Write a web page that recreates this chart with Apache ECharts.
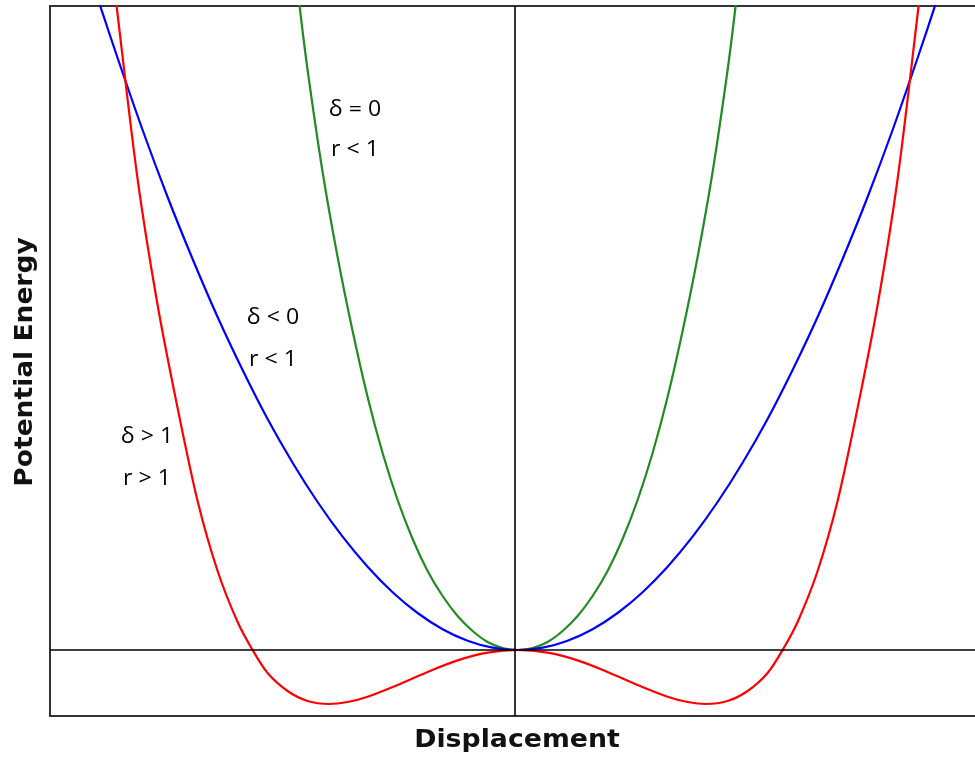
<!DOCTYPE html>
<html>
<head>
<meta charset="utf-8">
<script src="https://cdn.jsdelivr.net/npm/echarts@6/dist/echarts.min.js"></script>
<style>
  html, body { margin: 0; padding: 0; background: #fff; }
  #chart { width: 975px; height: 757px; }
</style>
</head>
<body>
<div id="chart"></div>
<script>
// Potential energy curves as [displacement, energy] pairs
const doubleWell = [
  [-4.074, 7.20], [-3.984, 6.44], [-3.774, 4.71], [-3.574, 3.45], [-3.374, 2.42],
  [-3.174, 1.49], [-2.974, 0.79], [-2.774, 0.28], [-2.624, 0.00], [-2.474, -0.23],
  [-2.274, -0.41], [-2.074, -0.51], [-1.859, -0.54], [-1.674, -0.52], [-1.474, -0.467],
  [-1.174, -0.349], [-0.874, -0.219], [-0.574, -0.104], [-0.274, -0.027], [0.026, 0.00],
  [0.326, -0.027], [0.626, -0.104], [0.926, -0.219], [1.226, -0.349], [1.526, -0.467],
  [1.726, -0.52], [1.911, -0.54], [2.126, -0.51], [2.326, -0.41], [2.526, -0.23],
  [2.676, 0.00], [2.826, 0.28], [3.026, 0.79], [3.226, 1.49], [3.426, 2.42],
  [3.626, 3.45], [3.826, 4.71], [4.036, 6.44], [4.126, 7.20]
];
const softWell = [
  [-4.274, 6.84], [-4.154, 6.46], [-3.974, 5.92], [-3.724, 5.20], [-3.474, 4.53],
  [-3.224, 3.91], [-2.974, 3.33], [-2.724, 2.80], [-2.474, 2.31], [-2.224, 1.873],
  [-1.974, 1.48], [-1.724, 1.133], [-1.474, 0.833], [-1.224, 0.578], [-0.974, 0.37],
  [-0.724, 0.208], [-0.474, 0.093], [-0.224, 0.023], [0.026, 0.00], [0.276, 0.023],
  [0.526, 0.093], [0.776, 0.208], [1.026, 0.37], [1.276, 0.578], [1.526, 0.833],
  [1.776, 1.133], [2.026, 1.48], [2.276, 1.873], [2.526, 2.31], [2.776, 2.80],
  [3.026, 3.33], [3.276, 3.91], [3.526, 4.53], [3.776, 5.20], [4.026, 5.92],
  [4.206, 6.46], [4.326, 6.84]
];
const stiffWell = [
  [-2.224, 7.08], [-2.154, 6.44], [-2.074, 5.80], [-1.924, 4.78], [-1.774, 3.93],
  [-1.624, 3.19], [-1.474, 2.53], [-1.324, 1.97], [-1.174, 1.50], [-1.024, 1.11],
  [-0.874, 0.79], [-0.724, 0.54], [-0.574, 0.34], [-0.424, 0.19], [-0.274, 0.08],
  [-0.124, 0.02], [0.026, 0.00], [0.176, 0.02], [0.326, 0.08], [0.476, 0.19],
  [0.626, 0.34], [0.776, 0.54], [0.926, 0.79], [1.076, 1.11], [1.226, 1.50],
  [1.376, 1.97], [1.526, 2.53], [1.676, 3.19], [1.826, 3.93], [1.976, 4.78],
  [2.126, 5.80], [2.206, 6.44], [2.276, 7.08]
];

const xRange = [-4.65, 4.60];
const yRange = [-0.66, 6.44];

// Case annotations beside each curve
const caseLabels = [
  { lines: ['δ = 0', 'r < 1'], x: 355, y: [110, 150] },
  { lines: ['δ < 0', 'r < 1'], x: 273, y: [318, 360] },
  { lines: ['δ > 1', 'r > 1'], x: 147, y: [437, 479] }
];
const xTitle = 'Displacement';
const yTitle = 'Potential Energy';

const chart = echarts.init(document.getElementById('chart'), null, { renderer: 'canvas' });

const frame = { show: true, lineStyle: { color: '#333', width: 2 } };
const titleFont = '"DejaVu Sans", sans-serif';

const graphics = [];
caseLabels.forEach(function (lab) {
  lab.lines.forEach(function (t, i) {
    graphics.push({
      type: 'text', x: lab.x, y: lab.y[i], scaleX: 1.1, silent: true,
      style: {
        text: t, fill: '#000', fontSize: 21, fontFamily: '"Open Sans", "Noto Sans", sans-serif',
        align: 'center', verticalAlign: 'middle'
      }
    });
  });
});
graphics.push({
  type: 'text', x: 517, y: 740, scaleX: 1.07, silent: true,
  style: {
    text: xTitle, fill: '#111', fontSize: 25, fontWeight: 'bold', fontFamily: titleFont,
    align: 'center', verticalAlign: 'middle'
  }
});
graphics.push({
  type: 'text', x: 25, y: 362, rotation: Math.PI / 2, scaleX: 1.06, silent: true,
  style: {
    text: yTitle, fill: '#111', fontSize: 25, fontWeight: 'bold', fontFamily: titleFont,
    align: 'center', verticalAlign: 'middle'
  }
});

function curve(data, color) {
  return {
    type: 'line', data: data, showSymbol: false, smooth: 0.3, clip: true,
    lineStyle: { color: color, width: 2.2 }, silent: true, z: 3
  };
}

const hiddenAxis = {
  axisTick: { show: false }, axisLabel: { show: false }, splitLine: { show: false }
};

chart.setOption({
  animation: false,
  grid: { left: 50, top: 6, right: 0, bottom: 41, containLabel: false },
  xAxis: [
    Object.assign({
      type: 'value', min: xRange[0], max: xRange[1], position: 'bottom',
      axisLine: Object.assign({ onZero: false }, frame)
    }, hiddenAxis),
    Object.assign({
      type: 'value', min: xRange[0], max: xRange[1], position: 'top',
      axisLine: Object.assign({ onZero: false }, frame)
    }, hiddenAxis)
  ],
  yAxis: Object.assign({
    type: 'value', min: yRange[0], max: yRange[1],
    axisLine: Object.assign({ onZero: false }, frame)
  }, hiddenAxis),
  graphic: graphics,
  series: [
    {
      type: 'line', data: [], silent: true,
      markLine: {
        silent: true, symbol: 'none', label: { show: false },
        lineStyle: { color: '#000', width: 1.6, type: 'solid' },
        data: [{ xAxis: 0 }, { yAxis: 0 }]
      }
    },
    curve(stiffWell, '#228b22'),
    curve(softWell, '#0000ff'),
    curve(doubleWell, '#ff0000')
  ]
});
</script>
</body>
</html>
